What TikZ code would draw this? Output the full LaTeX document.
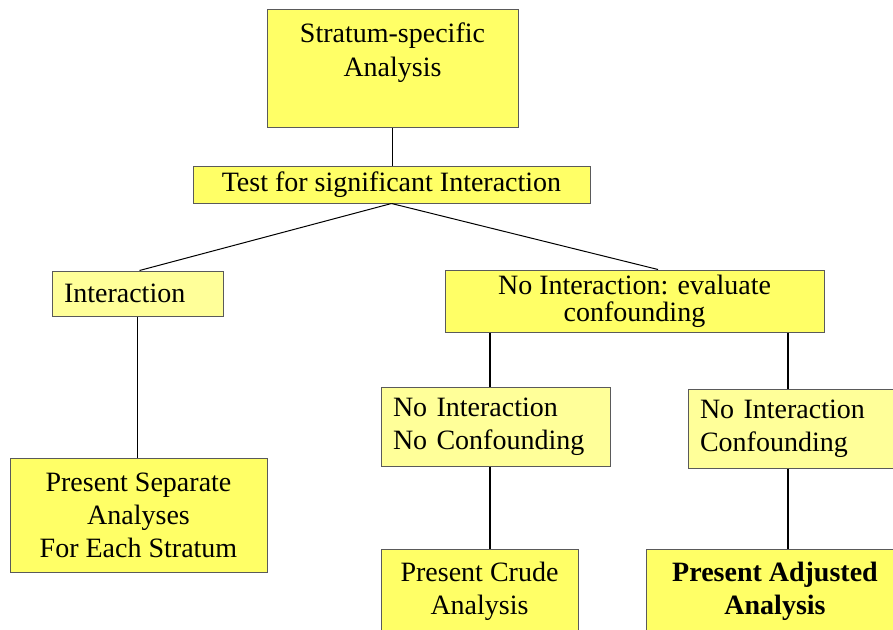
\documentclass[tikz,border=0pt]{standalone}
\usepackage{fontspec}
\setmainfont{Liberation Serif}
\usetikzlibrary{positioning}
\definecolor{ybright}{HTML}{FFFF66}
\definecolor{ylight}{HTML}{FFFF99}
\definecolor{boxline}{HTML}{5A5A5A}

\begin{document}
\begin{tikzpicture}[x=1pt, y=-1pt,
    box/.style={draw=boxline, line width=1pt, inner sep=0pt,
                font=\rmfamily\fontsize{28}{33}\selectfont},
    hi/.style={box, fill=ybright, align=center},
    lo/.style={box, fill=ylight, align=left},
    link/.style={line width=1.8pt},
    thin link/.style={line width=1pt}]
  \useasboundingbox (0,0) rectangle (893,629);
  \clip (0,0) rectangle (893,629);
  % top of the tree
  \node[hi, minimum width=251, minimum height=118] (strat) at (392.5,68) {};
  \node[anchor=north, font=\rmfamily\fontsize{28}{34}\selectfont,
        align=center, inner sep=0pt] (strattxt)
        at ([yshift=-14pt]strat.north) {Stratum-specific\\Analysis};
  \node[hi, minimum width=397, minimum height=37] (test) at (391.5,184.5)
        {Test for significant Interaction};
  % second level
  \node[lo, minimum width=171, minimum height=45, text width=147]
        (inter) at (137.5,293.5) {Interaction};
  \node[hi, minimum width=379, minimum height=62,
        font=\rmfamily\fontsize{28}{27}\selectfont] (noint) at (634.5,301)
        {No Interaction: evaluate\\confounding};
  % third level
  \node[lo, minimum width=229, minimum height=79, text width=205]
        (nonc) at (495.5,426.5) {No Interaction\\No Confounding};
  \node[lo, minimum width=232, minimum height=79, text width=208]
        (noc) at (804,428.5) {No Interaction\\Confounding};
  % what to present
  \node[hi, minimum width=257, minimum height=114] (sep) at (138.5,515)
        {Present Separate\\Analyses\\For Each Stratum};
  \node[hi, minimum width=197, minimum height=84] (crude) at (479.5,591)
        {Present Crude\\Analysis};
  \node[hi, minimum width=258, minimum height=84] (adj) at (775,591)
        {\bfseries Present Adjusted\\\bfseries Analysis};

  \coordinate (dropA) at (490,0);
  \coordinate (dropB) at (788,0);

  \draw[link] (strat.south) -- (strat.south |- test.north);
  \draw[thin link] (test.south) -- ([xshift=2pt]inter.north);
  \draw[thin link] (test.south) -- ([xshift=23.5pt]noint.north);
  \draw[link] (inter.south) -- (inter.south |- sep.north);
  \foreach \drop/\mid/\low in {dropA/nonc/crude, dropB/noc/adj}{%
    \draw[link] (noint.south -| \drop) -- (\mid.north -| \drop);
    \draw[link] (\mid.south -| \drop) -- (\low.north -| \drop);}
\end{tikzpicture}
\end{document}
